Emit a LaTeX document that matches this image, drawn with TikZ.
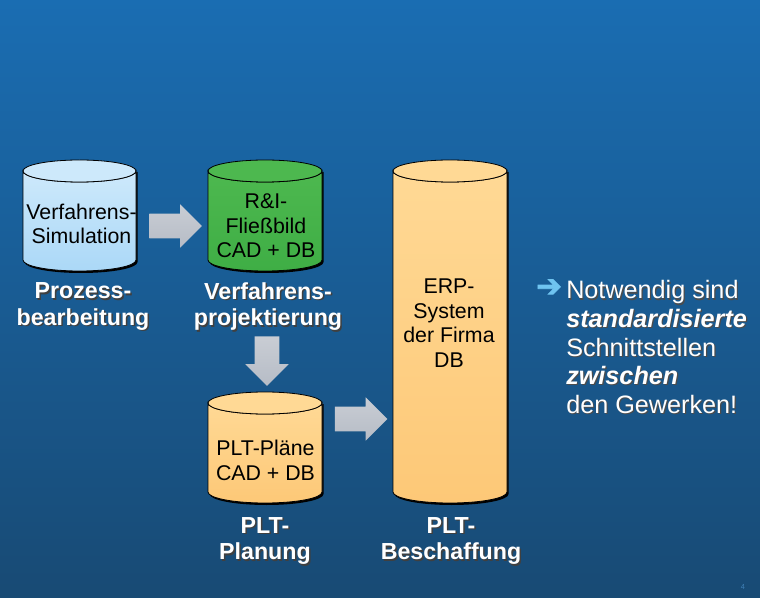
\documentclass[tikz,border=0pt]{standalone}
\usepackage{fontspec}
\setmainfont{Liberation Sans}
\newfontfamily\symfont[FakeBold=2.5]{DejaVu Sans}
\usetikzlibrary{shapes.arrows}
\definecolor{bgtop}{HTML}{1A6DB2}
\definecolor{bgbot}{HTML}{184A74}
\definecolor{bluetop}{HTML}{CDE9FB}
\definecolor{bluebot}{HTML}{ABD8F7}
\definecolor{greentop}{HTML}{4DB84F}
\definecolor{greenbot}{HTML}{3FAE45}
\definecolor{oratop}{HTML}{FFD995}
\definecolor{orabot}{HTML}{FDC877}
\definecolor{arrowtop}{HTML}{C9CDD4}
\definecolor{arrowbot}{HTML}{B6BCC6}
\definecolor{pointer}{HTML}{6FC4F0}
\definecolor{pagenum}{HTML}{3F7FB5}
\tikzset{
  x=.75pt,y=-.75pt,
  blockarrow/.style={single arrow,minimum width=32.25pt,minimum height=39.5pt,
    single arrow head extend=7.1pt,single arrow tip angle=90,inner xsep=0pt,inner ysep=9pt,
    top color=arrowtop,bottom color=arrowbot,draw=none},
  cyltext/.style={align=center,text=black,font=\fontsize{16}{18.4}\selectfont},
  headlabel/.style={align=center,text=white,font=\fontsize{17.4}{20}\selectfont\bfseries},
  headshadow/.style={align=center,text=black!75,font=\fontsize{17.4}{20}\selectfont\bfseries},
  sidetext/.style={align=left,anchor=west,inner sep=0pt,text=white,font=\fontsize{18.9}{21.4}\selectfont},
  sideshadow/.style={align=left,anchor=west,inner sep=0pt,text=black!70,font=\fontsize{18.9}{21.4}\selectfont},
}
% #1 left, #2 right, #3 top centre y, #4 bottom centre y, #5 lighter, #6 darker, #7 top face
\newcommand{\drum}[7]{%
  \pgfmathsetmacro{\rxx}{(#2-#1)/2*.75}%
  \fill[black] (#1+1.6,#3+1) -- (#1+1.6,#4+2) arc[start angle=180,end angle=360,x radius=\rxx pt,y radius=8.25pt] -- (#2+1.6,#3+1) -- cycle;
  \draw[black,line width=.6pt,top color=#5,bottom color=#6]
    (#1,#3) -- (#1,#4) arc[start angle=180,end angle=360,x radius=\rxx pt,y radius=8.25pt] -- (#2,#3)
    arc[start angle=360,end angle=180,x radius=\rxx pt,y radius=8.25pt] -- cycle;
  \draw[black,line width=.6pt,fill=#7] (#1,#3) arc[start angle=180,end angle=540,x radius=\rxx pt,y radius=8.25pt];
}
\newcommand{\headlab}[4]{% name, x, y, text
  \node[headshadow] (#1s) at (#2+1.5,#3+1.5) {#4};
  \node[headlabel] (#1) at (#2,#3) {#4};
}
\begin{document}
\begin{tikzpicture}
\useasboundingbox (0,0) rectangle (760,598);
\shade[top color=bgtop,bottom color=bgbot] (0,0) rectangle (760,598);

\drum{23}{136}{171}{260}{bluetop}{bluebot}{bluetop}
\drum{208}{322}{171}{260}{greentop}{greenbot}{greentop}
\drum{208}{322}{403}{492}{oratop}{orabot}{oratop}
\drum{393}{507}{171}{492}{oratop}{orabot}{oratop}

\node[cyltext] (sim) at (81.5,224) {Verfahrens-\\Simulation};
\node[cyltext] (ri) at (266,226) {R\&I-\\Fließbild\\CAD + DB};
\node[cyltext] (plt) at (265.5,460.5) {PLT-Pläne\\CAD + DB};
\node[cyltext] (erp) at (449,323) {ERP-\\System\\der Firma\\DB};

\node[blockarrow] (a1) at (169.5,226) {};
\node[blockarrow,rotate=-90,minimum height=37pt] (a2) at (267,355) {};
\node[blockarrow] (a3) at (355,419) {};

\headlab{l1}{83}{306.5}{Prozess-\\bearbeitung}
\headlab{l2}{268}{306.5}{Verfahrens-\\projektierung}
\headlab{l3}{265}{541}{PLT-\\Planung}
\headlab{l4}{451}{541}{PLT-\\Beschaffung}

\node[text=pointer,font=\symfont\fontsize{23}{25}\selectfont] (ptr) at (549,288) {➔};
\node[sideshadow] (side2) at (567.2,348.2) {Notwendig sind\\\textbf{\textit{standardisierte}}\\Schnittstellen\\\textbf{\textit{zwischen}}\\den Gewerken!};
\node[sidetext] (side) at (566,347) {Notwendig sind\\\textbf{\textit{standardisierte}}\\Schnittstellen\\\textbf{\textit{zwischen}}\\den Gewerken!};

\node[text=pagenum,font=\fontsize{5.5}{6}\selectfont] (page) at (743,587) {4};
\end{tikzpicture}
\end{document}
